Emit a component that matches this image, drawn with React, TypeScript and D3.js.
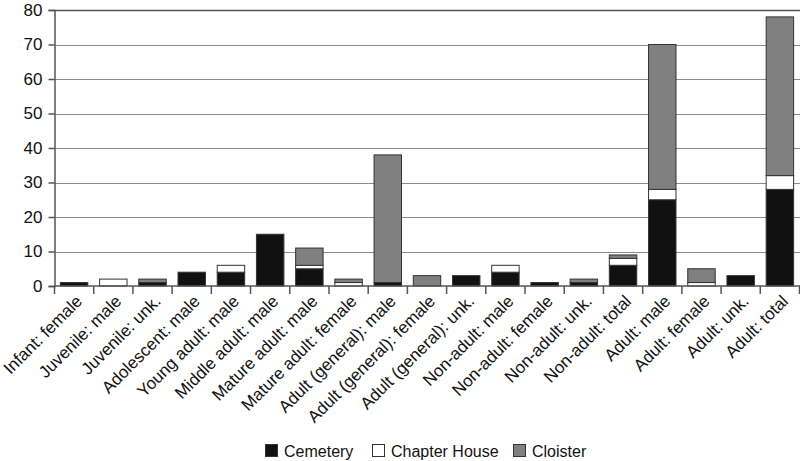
import React, { useEffect, useRef } from 'react';
import * as d3 from 'd3';

const categories = [
  'Infant: female', 'Juvenile: male', 'Juvenile: unk.', 'Adolescent: male',
  'Young adult: male', 'Middle adult: male', 'Mature adult: male', 'Mature adult: female',
  'Adult (general): male', 'Adult (general): female', 'Adult (general): unk.',
  'Non-adult: male', 'Non-adult: female', 'Non-adult: unk.', 'Non-adult: total',
  'Adult: male', 'Adult: female', 'Adult: unk.', 'Adult: total',
];
const cemetery = [1, 0, 1, 4, 4, 15, 5, 0, 1, 0, 3, 4, 1, 1, 6, 25, 0, 3, 28];
const chapterHouse = [0, 2, 0, 0, 2, 0, 1, 1, 0, 0, 0, 2, 0, 0, 2, 3, 1, 0, 4];
const cloister = [0, 0, 1, 0, 0, 0, 5, 1, 37, 3, 0, 0, 0, 1, 1, 42, 4, 0, 46];
const yTicks = [0, 10, 20, 30, 40, 50, 60, 70, 80];

const seriesNames = ['Cemetery', 'Chapter House', 'Cloister'];
const seriesColors = ['#111111', '#ffffff', '#808080'];

const App = () => {
  const ref = useRef<SVGSVGElement>(null);

  useEffect(() => {
    const svg = d3.select(ref.current);
    svg.selectAll('*').remove();

    const width = 800;
    const height = 461;
    const margin = { top: 10, right: 0.5, bottom: 175, left: 54.5 };
    const font = '"Liberation Sans", Arial, sans-serif';

    const x = d3.scaleBand()
      .domain(categories)
      .range([margin.left, width - margin.right])
      .paddingInner(0.3)
      .paddingOuter(0.15);
    const y = d3.scaleLinear().domain([0, 80]).range([height - margin.bottom, margin.top]);

    // gridlines
    svg.append('g')
      .selectAll('line')
      .data(yTicks.filter(t => t > 0))
      .enter()
      .append('line')
      .attr('x1', margin.left)
      .attr('x2', width)
      .attr('y1', d => Math.round(y(d)) + 0.5)
      .attr('y2', d => Math.round(y(d)) + 0.5)
      .attr('stroke', d => (d === 80 ? '#555' : '#8a8a8a'))
      .attr('stroke-width', d => (d === 80 ? 1.5 : 1));

    // stacked bars
    const rows = categories.map((c, i) => ({
      cat: c, Cemetery: cemetery[i], 'Chapter House': chapterHouse[i], Cloister: cloister[i],
    }));
    const stack = d3.stack<any>().keys(seriesNames)(rows);

    stack.forEach((layer, li) => {
      svg.append('g')
        .selectAll('rect')
        .data(layer.filter(d => d[1] - d[0] > 0))
        .enter()
        .append('rect')
        .attr('x', d => x(d.data.cat)!)
        .attr('width', x.bandwidth())
        .attr('y', d => y(d[1]))
        .attr('height', d => y(d[0]) - y(d[1]))
        .attr('fill', seriesColors[li])
        .attr('stroke', '#333')
        .attr('stroke-width', 1);
    });

    // y axis
    const yAxis = svg.append('g')
      .attr('transform', `translate(${margin.left},0)`)
      .call(d3.axisLeft(y).tickValues(yTicks).tickSize(6).tickPadding(6));
    yAxis.select('.domain').attr('stroke', '#555').attr('stroke-width', 1.5);
    yAxis.selectAll('.tick line').attr('stroke', '#555').attr('stroke-width', 1.5);
    yAxis.selectAll('text')
      .style('font-family', font)
      .style('font-size', '17px')
      .attr('fill', '#111');

    // x axis
    const base = y(0);
    svg.append('line')
      .attr('x1', margin.left).attr('x2', width)
      .attr('y1', base).attr('y2', base)
      .attr('stroke', '#555').attr('stroke-width', 1.5);
    const step = x.step();
    const x0 = x(categories[0])! - step * x.paddingOuter();
    svg.append('g')
      .selectAll('line')
      .data(d3.range(categories.length + 1).map(i => x0 + i * step))
      .enter()
      .append('line')
      .attr('x1', d => d).attr('x2', d => d)
      .attr('y1', base).attr('y2', base + 8)
      .attr('stroke', '#555').attr('stroke-width', 1.5);

    svg.append('g')
      .selectAll('text')
      .data(categories)
      .enter()
      .append('text')
      .attr('transform', d => `translate(${x(d)! + x.bandwidth() / 2 + 5},${base + 12}) rotate(-45)`)
      .attr('text-anchor', 'end')
      .attr('dy', '0.35em')
      .style('font-family', font)
      .style('font-size', '17px')
      .attr('fill', '#111')
      .text(d => d);

    // legend
    const legendItems = [
      { name: seriesNames[0], x: 265 },
      { name: seriesNames[1], x: 372 },
      { name: seriesNames[2], x: 513 },
    ];
    const legend = svg.append('g');
    legendItems.forEach((item, i) => {
      legend.append('rect')
        .attr('x', item.x + 0.5)
        .attr('y', 444.5)
        .attr('width', 12)
        .attr('height', 12)
        .attr('fill', seriesColors[i])
        .attr('stroke', '#333');
      legend.append('text')
        .attr('x', item.x + 19)
        .attr('y', 451)
        .attr('dy', '0.35em')
        .style('font-family', font)
        .style('font-size', '16px')
        .attr('fill', '#111')
        .text(item.name);
    });
  }, []);

  return (
    <svg
      ref={ref}
      width={800}
      height={461}
      style={{ position: 'absolute', left: 0, top: 0, background: '#fff' }}
    />
  );
};

export default App;
